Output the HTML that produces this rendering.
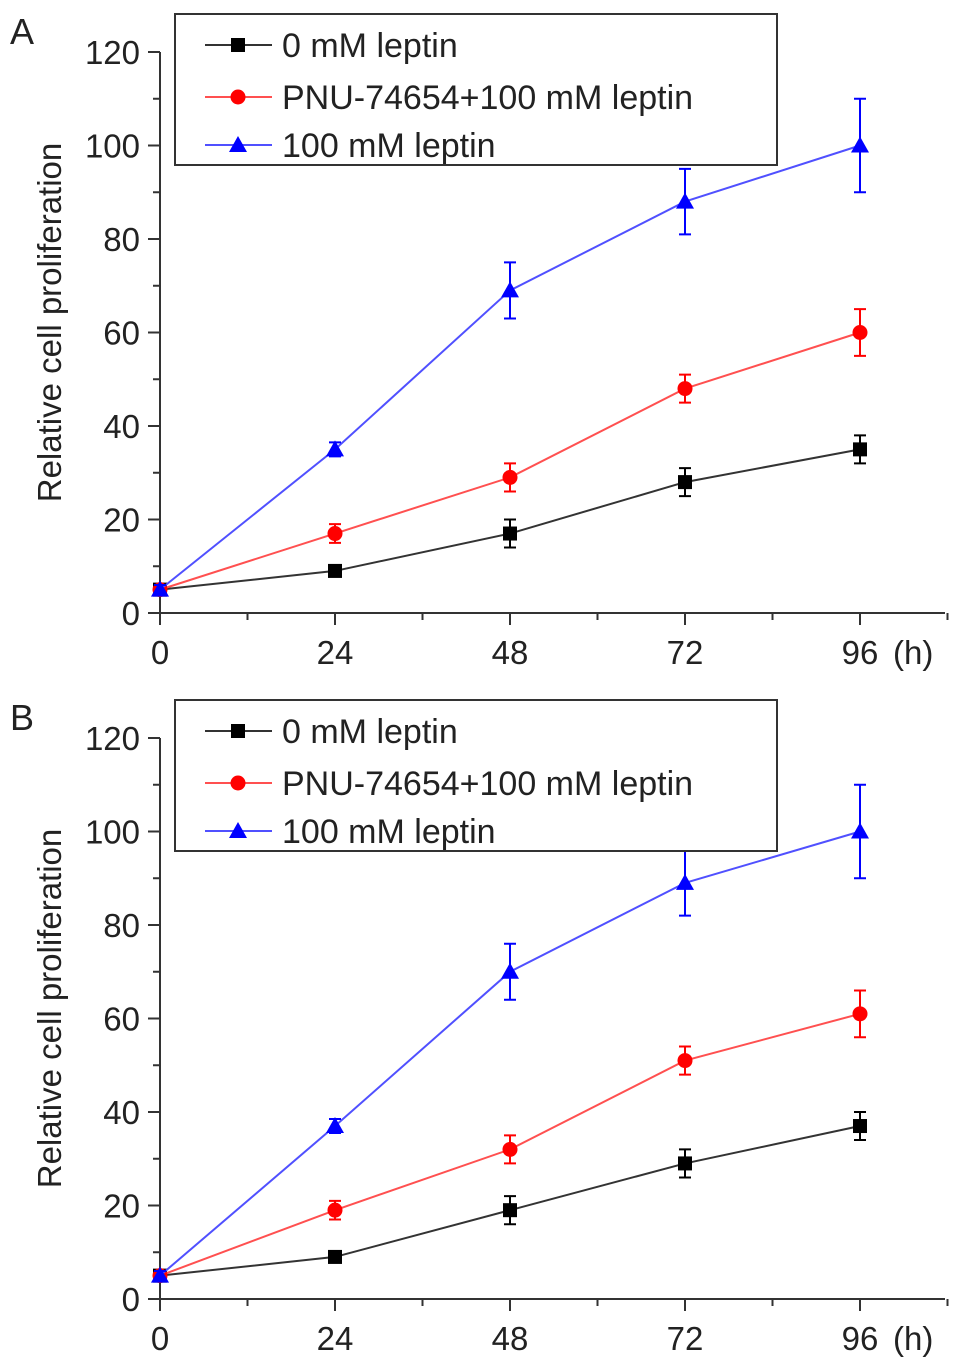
<!DOCTYPE html>
<html><head><meta charset="utf-8"><style>
html,body{margin:0;padding:0;background:#fff;}
svg{display:block;font-family:"Liberation Sans",Arial,sans-serif;}
</style></head><body>
<svg id="svg" width="969" height="1367" viewBox="0 0 969 1367"></svg>
<script>
const hours = [0, 24, 48, 72, 96];
const seriesNames = ["0 mM leptin", "PNU-74654+100 mM leptin", "100 mM leptin"];
const yTicks = [0, 20, 40, 60, 80, 100, 120];
const xTicks = [0, 24, 48, 72, 96];
const aBlack = [5, 9, 17, 28, 35];
const aBlackErr = [0.5, 1, 3, 3, 3];
const aRed = [5, 17, 29, 48, 60];
const aRedErr = [0.5, 2, 3, 3, 5];
const aBlue = [5, 35, 69, 88, 100];
const aBlueErr = [1, 1.5, 6, 7, 10];
const bBlack = [5, 9, 19, 29, 37];
const bBlackErr = [0.5, 1, 3, 3, 3];
const bRed = [5, 19, 32, 51, 61];
const bRedErr = [0.5, 2, 3, 3, 5];
const bBlue = [5, 37, 70, 89, 100];
const bBlueErr = [1, 1.5, 6, 7, 10];

const NS = "http://www.w3.org/2000/svg";
const svg = document.getElementById("svg");
function mk(tag, attrs, parent, text){
  const e = document.createElementNS(NS, tag);
  for (const k in attrs) e.setAttribute(k, attrs[k]);
  if (text !== undefined) e.textContent = text;
  (parent || svg).appendChild(e);
  return e;
}
const colors = ["#000", "#ff0000", "#0000ff"];
const lineColors = ["#333", "#ff5050", "#5050ff"];
const FS = 33;

function marker(g, kind, x, y, c){
  let m;
  if (kind === 0) m = mk("rect", {x: x-7, y: y-7, width: 14, height: 14, fill: c}, g);
  else if (kind === 1) m = mk("circle", {cx: x, cy: y, r: 7.5, fill: c}, g);
  else m = mk("polygon", {points: `${x},${y-9} ${x+9},${y+7} ${x-9},${y+7}`, fill: c}, g);
  return m;
}

function panel(letter, top, y0, series, errs){
  const X = h => 160 + h * (175/24);
  const Y = v => y0 - v * (93.5/20);
  const g = mk("g", {});
  
  
  const lt = mk("text", {x: 10, y: top + 44, "font-size": 36, fill: "#222"}, g, letter);
  
  
  const ax = mk("g", {stroke: "#333", "stroke-width": 2, fill: "none"}, g);
  
  
  mk("line", {x1: 160, y1: Y(120), x2: 160, y2: y0 + 10}, ax);
  mk("line", {x1: 148, y1: y0, x2: 945, y2: y0}, ax);
  for (let v = 0; v <= 120; v += 10) {
    mk("line", {x1: v % 20 === 0 ? 148 : 153, y1: Y(v), x2: 160, y2: Y(v)}, ax);
  }
  for (let h = 0; h <= 108; h += 12) {
    mk("line", {x1: X(h), y1: y0, x2: X(h), y2: y0 + (h % 24 === 0 ? 12 : 7)}, ax);
  }
  yTicks.forEach(v => {
    const t = mk("text", {x: 140, y: Y(v) + 12, "font-size": FS, "text-anchor": "end", fill: "#222"}, g, String(v));
    
    
  });
  xTicks.forEach(h => {
    const t = mk("text", {x: X(h), y: y0 + 51, "font-size": FS, "text-anchor": "middle", fill: "#222"}, g, String(h));
    
    
  });
  const hu = mk("text", {x: 893, y: y0 + 51, "font-size": FS, fill: "#222"}, g, "(h)");
  
  
  const yl = mk("text", {x: 0, y: 0, "font-size": FS, "text-anchor": "middle", fill: "#222", transform: `translate(61,${(Y(120)+y0)/2 - 10}) rotate(-90)`}, g, "Relative cell proliferation");
  
  
  series.forEach((vals, si) => {
    const sg = mk("g", {}, g);
    
    
    const pts = hours.map((h, i) => X(h) + "," + Y(vals[i])).join(" ");
    mk("polyline", {points: pts, fill: "none", stroke: lineColors[si], "stroke-width": 2}, sg);
    hours.forEach((h, i) => {
      const e = errs[si][i], x = X(h);
      mk("path", {d: `M${x},${Y(vals[i]-e)}V${Y(vals[i]+e)}M${x-6},${Y(vals[i]-e)}h12M${x-6},${Y(vals[i]+e)}h12`, stroke: colors[si], "stroke-width": 2, fill: "none"}, sg);
      const m = marker(sg, si, x, Y(vals[i]), colors[si]);
      
      
    });
  });
  const lg = mk("g", {}, g);
  
  
  mk("rect", {x: 175, y: top + 14, width: 602, height: 151, fill: "#fff", stroke: "#333", "stroke-width": 2}, lg);
  [31, 83, 131].forEach((dy, si) => {
    const eg = mk("g", {}, lg);
    
    
    const yy = top + dy + 14;
    mk("line", {x1: 205, y1: yy, x2: 272, y2: yy, stroke: lineColors[si], "stroke-width": 2}, eg);
    marker(eg, si, 238, yy, colors[si]);
    mk("text", {x: 282, y: yy + 12, "font-size": 34, fill: "#222"}, eg, seriesNames[si]);
  });
}
panel("A", 0, 613, [aBlack, aRed, aBlue], [aBlackErr, aRedErr, aBlueErr]);
panel("B", 686, 1299, [bBlack, bRed, bBlue], [bBlackErr, bRedErr, bBlueErr]);
</script>
</body></html>
